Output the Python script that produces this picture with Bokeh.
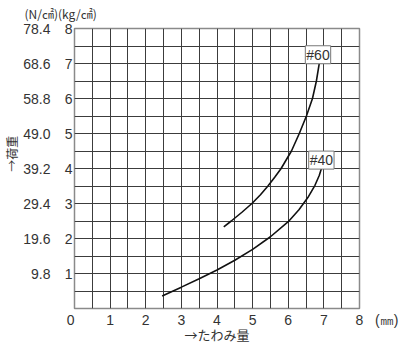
from bokeh.plotting import figure
from bokeh.models import FixedTicker, LinearAxis, Label, Range1d
from bokeh.embed import file_html
from bokeh.resources import INLINE

# ---- data ----
x_ticks = [0, 1, 2, 3, 4, 5, 6, 7, 8]
kg_ticks = [1, 2, 3, 4, 5, 6, 7, 8]
n_labels = ["9.8", "19.6", "29.4", "39.2", "49.0", "58.8", "68.6", "78.4"]
x_unit = "(㎜)"
y_units = "(N/㎠)(kg/㎠)"
x_title = "→たわみ量"
y_title = "→荷重"

s40_name = "#40"
s40_x = [2.46, 3.00, 3.50, 4.00, 4.50, 5.00, 5.50, 6.00, 6.30, 6.55, 6.75, 6.87, 6.94]
s40_y = [0.36, 0.61, 0.85, 1.10, 1.38, 1.69, 2.05, 2.48, 2.82, 3.17, 3.52, 3.80, 4.03]

s60_name = "#60"
s60_x = [4.19, 4.40, 4.70, 4.98, 5.22, 5.43, 5.62, 5.80, 6.09, 6.31, 6.51, 6.68, 6.79, 6.88]
s60_y = [2.33, 2.50, 2.75, 3.00, 3.25, 3.50, 3.75, 4.00, 4.50, 5.00, 5.50, 6.00, 6.50, 7.06]

NUM_FONT = "Liberation Sans"
JP_FONT = "Noto Sans CJK JP"
TXT = "#333333"
NB = "\u00a0"

p = figure(width=405, height=346, output_backend="svg", toolbar_location=None,
           x_range=Range1d(0, 8), y_range=Range1d(0, 8),
           min_border_left=74, min_border_right=46, min_border_top=27, min_border_bottom=36)
p.background_fill_color = "white"
p.border_fill_color = "white"
p.outline_line_color = "#8a8a8a"
p.outline_line_width = 1.5

grid_ticks = [i * 0.5 for i in range(1, 16)]
p.xgrid.ticker = FixedTicker(ticks=grid_ticks)
p.ygrid.ticker = FixedTicker(ticks=grid_ticks)
for g in (p.xgrid, p.ygrid):
    g.grid_line_color = "#3c3c3c"
    g.grid_line_width = 1

def style_axis(ax, standoff):
    ax.axis_line_color = None
    ax.major_tick_line_color = None
    ax.minor_tick_line_color = None
    ax.major_tick_out = 0
    ax.major_tick_in = 0
    ax.major_label_standoff = standoff
    ax.major_label_text_font = NUM_FONT
    ax.major_label_text_font_size = "14px"
    ax.major_label_text_color = TXT
    ax.major_label_text_line_height = 1.0
    ax.axis_label_text_line_height = 1.0

# title as the units header
p.title.text = y_units
p.title.align = "left"
p.title.vertical_align = "top"
p.title.offset = -50
p.title.standoff = 9
p.title.text_font = JP_FONT
p.title.text_font_size = "12px"
p.title.text_font_style = "normal"
p.title.text_color = TXT
p.title.text_line_height = 1.0

# x axis
p.xaxis.ticker = FixedTicker(ticks=x_ticks)
p.xaxis.major_label_overrides = {0: "0" + NB * 2,
                                 8: NB * 9 + "8" + NB * 3 + x_unit}
style_axis(p.xaxis[0], 3)
p.xaxis.axis_label = x_title
p.xaxis.axis_label_standoff = -6
p.xaxis.axis_label_text_font = JP_FONT
p.xaxis.axis_label_text_font_size = "13px"
p.xaxis.axis_label_text_font_style = "normal"
p.xaxis.axis_label_text_color = TXT

# inner left axis (kg/cm2)
p.yaxis.ticker = FixedTicker(ticks=kg_ticks)
style_axis(p.yaxis[0], 2)

# outer left axis (N/cm2)
n_axis = LinearAxis(ticker=FixedTicker(ticks=kg_ticks),
                    major_label_overrides={t: s for t, s in zip(kg_ticks, n_labels)})
style_axis(n_axis, 11)
n_axis.axis_label = "\u3000\u3000" + NB * 2 + y_title
n_axis.axis_label_standoff = 0
n_axis.axis_label_text_font = JP_FONT
n_axis.axis_label_text_font_size = "12px"
n_axis.axis_label_text_font_style = "normal"
n_axis.axis_label_text_color = TXT
p.add_layout(n_axis, "left")

# curves
p.line(s40_x, s40_y, line_color="#111111", line_width=1.6)
p.line(s60_x, s60_y, line_color="#111111", line_width=1.6)

def tag(txt, x, y):
    p.add_layout(Label(x=x, y=y, text=txt, text_align="center", text_baseline="middle",
                       text_font=NUM_FONT, text_font_size="14px", text_color=TXT,
                       background_fill_color="white", border_line_color="#777777",
                       border_line_width=1, padding=1))

tag(s60_name, 6.835, 7.25)
tag(s40_name, 6.93, 4.24)

open("out.html", "w").write(file_html(p, INLINE))
